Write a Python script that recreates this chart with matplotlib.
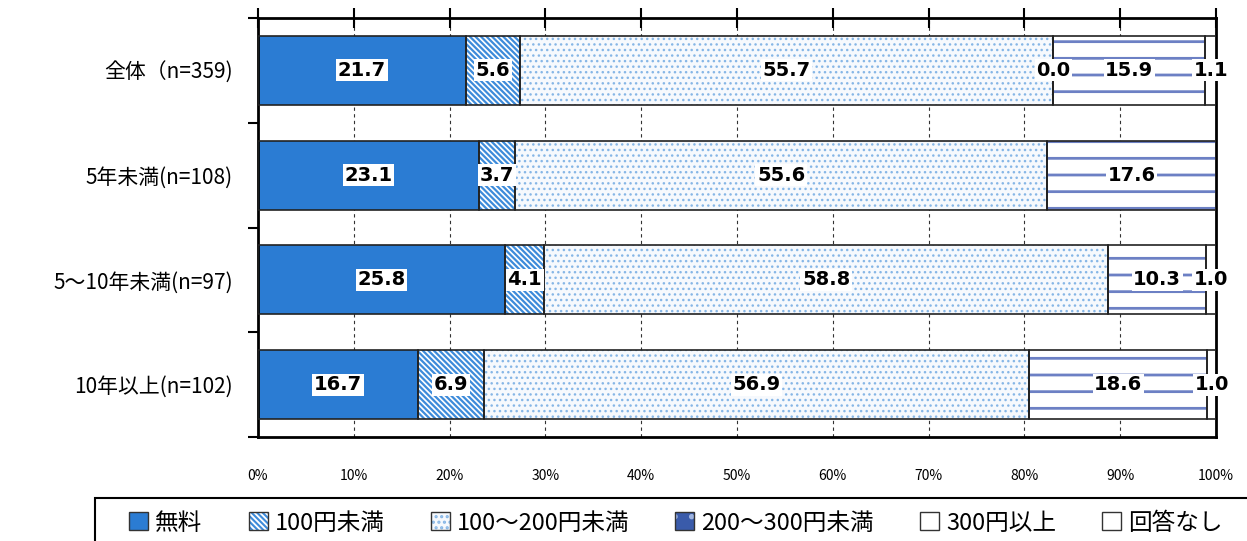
import matplotlib
matplotlib.use("Agg")
import matplotlib.pyplot as plt
from matplotlib.patches import Patch, Rectangle
import numpy as np

plt.rcParams['font.family'] = ['Noto Sans CJK JP', 'DejaVu Sans']
plt.rcParams['hatch.linewidth'] = 1.5

categories = ['全体（n=359)', '5年未満(n=108)', '5～10年未満(n=97)', '10年以上(n=102)']
series = ['無料', '100円未満', '100～200円未満', '200～300円未満', '300円以上', '回答なし']
free = [21.7, 23.1, 25.8, 16.7]
under100 = [5.6, 3.7, 4.1, 6.9]
y100_200 = [55.7, 55.6, 58.8, 56.9]
y200_300 = [0.0, 0.0, 0.0, 0.0]
over300 = [15.9, 17.6, 10.3, 18.6]
no_answer = [1.1, 0.0, 1.0, 1.0]
xticks = [0, 10, 20, 30, 40, 50, 60, 70, 80, 90, 100]

data = [free, under100, y100_200, y200_300, over300, no_answer]
# facecolor, hatch, hatch colour, hatch linewidth
styles = [
    ('#2B7CD3', None, '#2B7CD3', 1.0),
    ('white', '\\\\\\\\\\\\', '#3D8BDA', 1.6),
    ('#F6F9FD', '...', '#86B6E6', 1.0),
    ('#3A5BAA', '.', '#9DB3E0', 1.0),
    ('white', '-', '#6C80C4', 2.0),
    ('white', None, 'white', 1.0),
]

fig = plt.figure(figsize=(12.47, 5.41), dpi=100)
ax = fig.add_axes([258/1247, 1-437/541, 958/1247, 419/541])

y = np.arange(len(categories))
left = np.zeros(len(categories))
for vals, (fc, hatch, hc, hlw) in zip(data, styles):
    vals = np.array(vals)
    bars = ax.barh(y, vals, left=left, height=0.66, color=fc, hatch=hatch,
                   edgecolor=hc, linewidth=0, zorder=2)
    for b in bars:
        if hasattr(b, 'set_hatch_linewidth'):
            b.set_hatch_linewidth(hlw)
    ax.barh(y, vals, left=left, height=0.66, fill=False,
            edgecolor='#222222', linewidth=1.2, zorder=3)
    for i, v in enumerate(vals):
        if v > 0 or i == 0:
            ax.text(left[i] + v / 2, y[i], f'{v:.1f}', ha='center', va='center',
                    fontsize=14, fontweight='bold', zorder=6, clip_on=False,
                    family=['DejaVu Sans'],
                    bbox=dict(boxstyle='square,pad=0.08', fc='white', ec='none'))
    left += vals

ax.set_xlim(0, 100)
ax.set_ylim(len(categories) - 0.5, -0.5)
ax.set_xticks(xticks)
ax.set_xticklabels([f'{t}%' for t in xticks], fontsize=10)
ax.tick_params(axis='x', top=True, bottom=False, labeltop=False, labelbottom=True,
               direction='inout', length=14, width=1.5, pad=16)
ax.set_yticks(y)
ax.set_yticklabels(categories, fontsize=15)
ax.tick_params(axis='y', which='major', length=0, pad=18)
ax.set_yticks(np.arange(-0.5, len(categories)), minor=True)
ax.tick_params(axis='y', which='minor', length=7, width=1.5, direction='out')
ax.grid(axis='x', linestyle=(0, (3, 3)), color='#333333', linewidth=0.8, zorder=1)
ax.set_axisbelow(True)
for s in ax.spines.values():
    s.set_linewidth(2)
    s.set_color('black')

handles = []
for k, (fc, hatch, hc, hlw) in enumerate(styles):
    if k == 4:
        h = Patch(facecolor='white')
    else:
        h = Patch(facecolor=fc, hatch=hatch, edgecolor=hc, linewidth=0)
    handles.append((h, Patch(fill=False, edgecolor='#333333', linewidth=1)))
fig.legend(handles, series, loc='center', bbox_to_anchor=(676/1247, 1-523/541),
           ncol=6, frameon=False, fontsize=17, handlelength=0.8, handleheight=0.8,
           handletextpad=0.3, columnspacing=1.95)
fig.patches.append(Rectangle((95/1247, -0.05), 1.0, 0.05 + 1-498/541,
                             transform=fig.transFigure, fill=False,
                             edgecolor='black', linewidth=1.5))

fig.savefig('out.png', dpi=100)
